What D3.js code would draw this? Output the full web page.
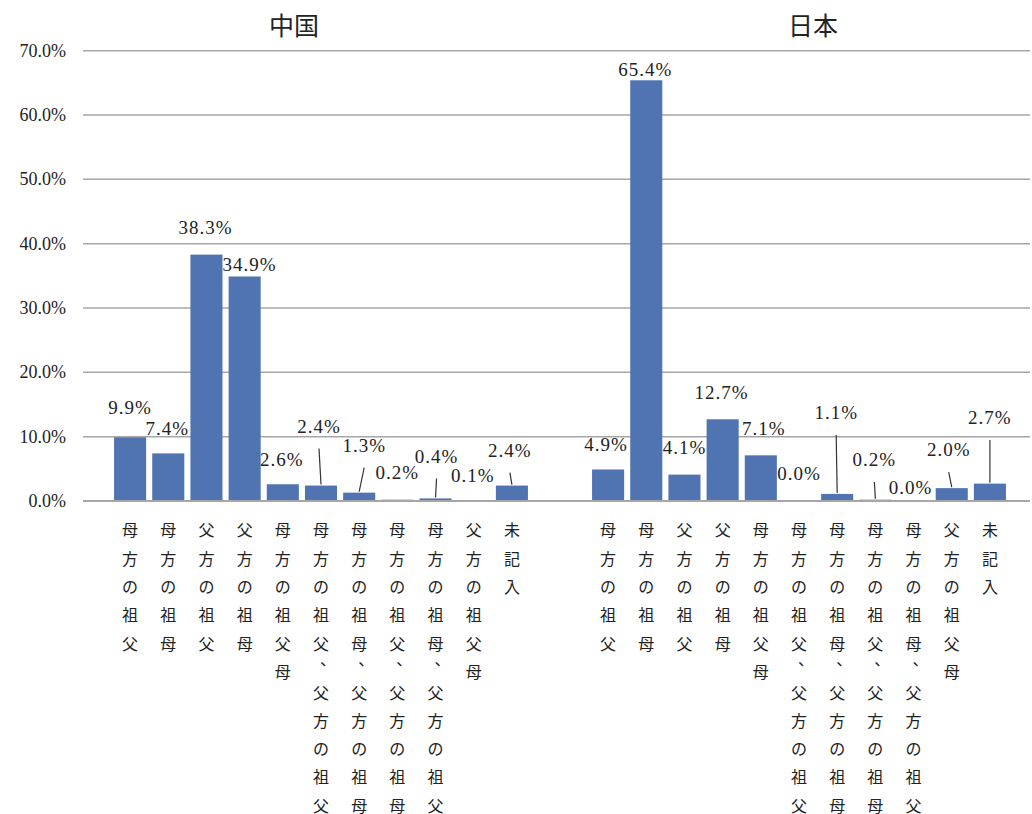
<!DOCTYPE html>
<html>
<head>
<meta charset="utf-8">
<script src="https://cdn.jsdelivr.net/npm/d3@7"></script>
<style>
  html, body { margin: 0; padding: 0; background: #fff; }
  svg { display: block; }
</style>
</head>
<body>
<svg id="chart" width="1032" height="814"></svg>
<script>
// ---- data ----
const groups = ["中国", "日本"];
const categories = [
  "母方の祖父", "母方の祖母", "父方の祖父", "父方の祖母", "母方の祖父母",
  "母方の祖父、父方の祖父", "母方の祖母、父方の祖母",
  "母方の祖父、父方の祖母", "母方の祖母、父方の祖父",
  "父方の祖父母", "未記入"
];
const chinaValues = [9.9, 7.4, 38.3, 34.9, 2.6, 2.4, 1.3, 0.2, 0.4, 0.1, 2.4];
const japanValues = [4.9, 65.4, 4.1, 12.7, 7.1, 0.0, 1.1, 0.2, 0.0, 2.0, 2.7];
const yTicks = [0, 10, 20, 30, 40, 50, 60, 70];

// ---- layout / style (label placement as in the original, manual offsets) ----
const chinaLabelDX = [0, -1, -1, 5, -1, -2, 5, 0, 1, -1, -2];
const chinaLabelDY = [-30, -25, -27, -12, -25, -59, -47, -27, -42, -25, -35];
const chinaLeader  = [0, 0, 0, 0, 0, 1, 1, 0, 1, 0, 1];
const japanLabelDX = [-2, -1, 0, -1, 3, 0, -1, -1, -3, -3, 0];
const japanLabelDY = [-24.5, -11, -26.6, -26.3, -26.3, -27, -81, -39.7, -13, -38, -65.6];
const japanLeader  = [0, 0, 0, 0, 0, 0, 1, 1, 0, 1, 1];

const panels = [
  { name: groups[0], values: chinaValues, dx: chinaLabelDX, dy: chinaLabelDY, leader: chinaLeader, range: [111, 531], titleX: 294 },
  { name: groups[1], values: japanValues, dx: japanLabelDX, dy: japanLabelDY, leader: japanLeader, range: [589, 1009], titleX: 813 }
];

const BAR = "#4f74b1";
const GRID = "#a6a6a6";
const TEXT = "#222";
const NUMFONT = "'Liberation Serif', 'DejaVu Serif', serif";
const CJKFONT = "'Noto Sans CJK JP', 'Noto Sans CJK SC', sans-serif";

const svg = d3.select("#chart");
const y = d3.scaleLinear().domain([0, 70]).range([501, 50.7]);
const fmt = v => v.toFixed(1) + "%";

// gridlines (behind bars)
svg.append("g").selectAll("line").data(yTicks.filter(t => t !== 0)).join("line")
  .attr("x1", 83).attr("x2", 1030)
  .attr("y1", d => y(d)).attr("y2", d => y(d))
  .attr("stroke", GRID).attr("stroke-width", 1.5);

// y tick labels
svg.append("g").selectAll("text").data(yTicks).join("text")
  .attr("x", 66).attr("y", d => y(d) + 6)
  .attr("text-anchor", "end")
  .attr("font-family", NUMFONT).attr("font-size", 18).attr("fill", TEXT)
  .text(d => fmt(d));

panels.forEach(p => {
  const x = d3.scaleBand().domain(categories).range(p.range).paddingInner(0.16).paddingOuter(0.08);
  const cx = c => x(c) + x.bandwidth() / 2;
  const g = svg.append("g");
  const rows = categories.map((c, i) => ({ c, v: p.values[i], i }));

  // title
  g.append("text").attr("x", p.titleX).attr("y", 24)
    .attr("text-anchor", "middle").attr("dominant-baseline", "central")
    .attr("font-family", CJKFONT).attr("font-size", 25).attr("fill", TEXT)
    .text(p.name);

  // bars
  g.selectAll("rect").data(rows).join("rect")
    .attr("x", d => x(d.c)).attr("width", x.bandwidth())
    .attr("y", d => y(d.v)).attr("height", d => y(0) - y(d.v))
    .attr("fill", BAR);

  // leader lines
  g.selectAll("line.leader").data(rows.filter(d => p.leader[d.i])).join("line")
    .attr("class", "leader")
    .attr("x1", d => cx(d.c) + p.dx[d.i]).attr("y1", d => y(d.v) + p.dy[d.i] + 22)
    .attr("x2", d => cx(d.c)).attr("y2", d => y(d.v) - 1)
    .attr("stroke", "#333").attr("stroke-width", 1.2);

  // data labels
  g.selectAll("text.val").data(rows).join("text")
    .attr("class", "val")
    .attr("x", d => cx(d.c) + p.dx[d.i]).attr("y", d => y(d.v) + p.dy[d.i] + 6.3)
    .attr("text-anchor", "middle")
    .attr("font-family", NUMFONT).attr("font-size", 19).attr("letter-spacing", 1)
    .attr("fill", TEXT)
    .text(d => fmt(d.v));

  // vertical category labels
  rows.forEach(d => {
    const chars = Array.from(d.c);
    let yy = 529.3;
    const col = g.append("g");
    chars.forEach((ch, k) => {
      if (ch === "、") {
        col.append("text").attr("x", cx(d.c) - 1).attr("y", yy - 6)
          .attr("font-family", CJKFONT).attr("font-size", 16).attr("fill", TEXT)
          .text(ch);
        yy += 20.7;
      } else {
        col.append("text").attr("x", cx(d.c)).attr("y", yy)
          .attr("text-anchor", "middle").attr("dominant-baseline", "central")
          .attr("font-family", CJKFONT).attr("font-size", 16).attr("fill", TEXT)
          .text(ch);
        yy += 28.3;
      }
    });
  });
});

// baseline (drawn over the bars, as in the original)
svg.append("line")
  .attr("x1", 83).attr("x2", 1030)
  .attr("y1", y(0)).attr("y2", y(0))
  .attr("stroke", GRID).attr("stroke-width", 2);
</script>
</body>
</html>
